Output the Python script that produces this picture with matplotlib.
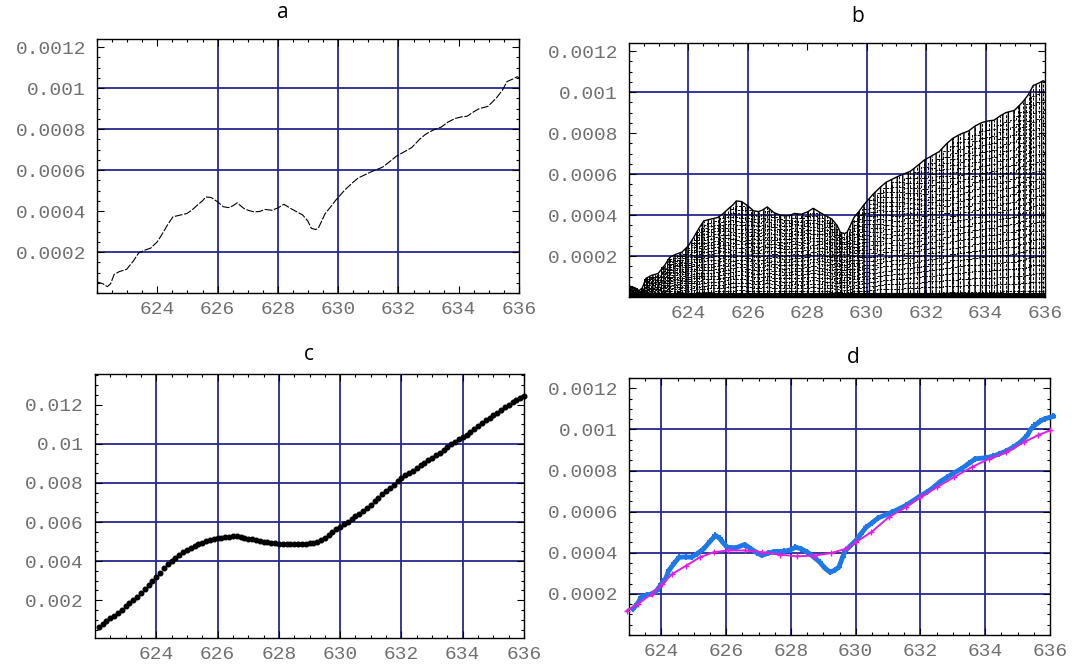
import numpy as np
import matplotlib
matplotlib.use('Agg')
import matplotlib.pyplot as plt
from matplotlib.ticker import MultipleLocator

# ---------------- data ----------------
# panel a / b : measured curve (y in units of 1e-4)
a_x = [622.00, 622.20, 622.34, 622.45, 622.57, 622.75, 622.98, 623.20, 623.38, 623.60,
       623.78, 624.00, 624.18, 624.35, 624.52, 624.75, 624.98, 625.15, 625.33, 625.50,
       625.61, 625.79, 626.00, 626.19, 626.36, 626.50, 626.65, 626.88, 627.05, 627.22,
       627.40, 627.57, 627.80, 628.00, 628.20, 628.48, 628.65, 628.83, 629.00, 629.11,
       629.25, 629.34, 629.45, 629.57, 629.75, 629.92, 630.21, 630.45, 630.66, 631.07,
       631.47, 631.70, 631.93, 632.20, 632.44, 632.70, 632.90, 633.15, 633.42, 633.65,
       633.88, 634.10, 634.28, 634.50, 634.68, 634.97, 635.10, 635.25, 635.45, 635.60,
       635.80, 635.94, 636.00]
a_y = [0.54, 0.45, 0.31, 0.45, 0.91, 1.05, 1.15, 1.55, 1.95, 2.10,
       2.19, 2.50, 2.92, 3.35, 3.72, 3.80, 3.88, 4.05, 4.29, 4.50,
       4.69, 4.66, 4.45, 4.21, 4.17, 4.25, 4.40, 4.12, 4.02, 3.96,
       3.98, 4.08, 4.04, 4.15, 4.33, 4.08, 3.95, 3.80, 3.50, 3.16,
       3.10, 3.16, 3.50, 3.88, 4.20, 4.53, 5.01, 5.35, 5.61, 5.90,
       6.14, 6.40, 6.68, 6.90, 7.10, 7.50, 7.75, 7.95, 8.10, 8.35,
       8.52, 8.60, 8.63, 8.85, 9.00, 9.11, 9.30, 9.52, 9.90, 10.32,
       10.45, 10.56, 10.50]
b_levels = [0.03, 0.07, 0.11, 0.15, 0.19, 0.23, 0.27, 0.31, 0.35, 0.39, 0.43, 0.47,
            0.51, 0.55, 0.59, 0.63, 0.67, 0.71, 0.75, 0.79, 0.83, 0.87, 0.91, 0.95]

# panel c : integrated curve (y in units of 1e-3), sampled every 0.125
c_y = [0.64, 0.78, 0.92, 1.07, 1.19, 1.33, 1.50, 1.69, 1.86, 2.02, 2.17, 2.36, 2.57, 2.79, 2.99, 3.19,
       3.41, 3.64, 3.83, 4.01, 4.16, 4.32, 4.46, 4.58, 4.68, 4.77, 4.87, 4.94, 5.02, 5.08, 5.12, 5.16,
       5.19, 5.22, 5.25, 5.27, 5.27, 5.24, 5.19, 5.14, 5.12, 5.09, 5.04, 4.99, 4.96, 4.93, 4.91, 4.90,
       4.89, 4.88, 4.87, 4.87, 4.87, 4.87, 4.88, 4.91, 4.94, 4.99, 5.06, 5.20, 5.34, 5.48, 5.62, 5.74,
       5.88, 6.02, 6.16, 6.29, 6.41, 6.55, 6.71, 6.87, 7.06, 7.25, 7.44, 7.60, 7.75, 7.91, 8.08, 8.24,
       8.38, 8.51, 8.63, 8.77, 8.90, 9.03, 9.16, 9.29, 9.42, 9.55, 9.69, 9.83, 9.97, 10.11, 10.23, 10.35,
       10.47, 10.60, 10.75, 10.91, 11.06, 11.20, 11.33, 11.46, 11.59, 11.72, 11.86, 12.00, 12.12, 12.24,
       12.34, 12.44]
c_x = np.round(622.125 + 0.125 * np.arange(len(c_y)), 3)

# panel d : measured (blue) and fitted (magenta), y in units of 1e-4
d_blue_x = [623.12, 623.25, 623.38, 623.55, 623.70, 623.85, 624.00, 624.12, 624.23, 624.40,
            624.55, 624.75, 624.93, 625.10, 625.30, 625.50, 625.67, 625.80, 625.89, 626.03,
            626.30, 626.57, 626.78, 626.95, 627.10, 627.30, 627.48, 627.80, 628.00, 628.14,
            628.30, 628.51, 628.70, 628.89, 629.05, 629.21, 629.35, 629.48, 629.60, 629.68,
            630.00, 630.15, 630.32, 630.50, 630.70, 631.12, 631.55, 631.98, 632.20, 632.41,
            632.60, 632.83, 633.05, 633.26, 633.50, 633.69, 634.02, 634.25, 634.44, 634.65,
            634.87, 635.10, 635.30, 635.40, 635.52, 635.70, 635.84, 636.10]
d_blue_y = [1.27, 1.50, 1.84, 1.95, 2.00, 2.15, 2.49, 2.70, 3.14, 3.50,
            3.78, 3.80, 3.78, 3.95, 4.18, 4.55, 4.84, 4.70, 4.51, 4.27,
            4.24, 4.40, 4.18, 4.00, 3.87, 3.98, 4.06, 4.07, 4.15, 4.27,
            4.20, 4.03, 3.80, 3.54, 3.25, 3.05, 3.15, 3.30, 3.80, 4.10,
            4.59, 4.90, 5.24, 5.45, 5.70, 5.97, 6.30, 6.75, 6.95, 7.19,
            7.45, 7.68, 7.90, 8.08, 8.35, 8.57, 8.62, 8.70, 8.81, 8.95,
            9.14, 9.40, 9.71, 10.00, 10.19, 10.40, 10.52, 10.63]
d_fit_x = [622.93, 623.28, 623.70, 624.02, 624.34, 624.77, 625.19, 625.62, 626.05, 626.58,
           627.11, 627.65, 628.18, 628.71, 629.25, 629.67, 630.00, 630.48, 631.02, 631.55,
           631.98, 632.51, 633.04, 633.58, 634.11, 634.65, 635.20, 635.62, 636.00]
d_fit_y = [1.19, 1.51, 2.00, 2.49, 2.97, 3.38, 3.78, 4.03, 4.11, 4.11,
           4.03, 3.91, 3.83, 3.86, 3.99, 4.18, 4.51, 5.00, 5.73, 6.22,
           6.70, 7.19, 7.68, 8.16, 8.57, 8.90, 9.38, 9.71, 9.95]

# ---------------- figure ----------------
fig = plt.figure(figsize=(10.72, 6.68), dpi=100)
W, H = 1072.0, 668.0
GRID = '#27278f'
TICKC = '#707070'
MONO = 'Liberation Mono'


def axes_px(left, top, right, bottom):
    return fig.add_axes([left / W, 1 - bottom / H, (right - left) / W, (bottom - top) / H])


def style(ax, xlim, ylim, xmaj, ymaj, ylabels, yminor, vgrid, hgrid):
    ax.set_xlim(*xlim)
    ax.set_ylim(*ylim)
    ax.set_xticks(xmaj)
    ax.set_xticklabels([str(v) for v in xmaj])
    ax.xaxis.set_minor_locator(MultipleLocator(0.5))
    ax.set_yticks(ymaj)
    ax.set_yticklabels(ylabels)
    ax.yaxis.set_minor_locator(MultipleLocator(yminor))
    ax.tick_params(which='both', direction='in', top=True, right=True,
                   color='black', labelcolor=TICKC, width=0.8)
    ax.tick_params(which='major', length=5, labelsize=14)
    ax.tick_params(axis='y', which='major', pad=8)
    ax.tick_params(axis='x', which='major', pad=6)
    ax.tick_params(which='minor', length=2.5)
    for lab in ax.get_xticklabels() + ax.get_yticklabels():
        lab.set_family(MONO)
    for v in vgrid:
        ax.axvline(v, color=GRID, lw=1.3, zorder=1)
    for h in hgrid:
        ax.axhline(h, color=GRID, lw=1.3, zorder=1)
    for s in ax.spines.values():
        s.set_linewidth(1.0)
        s.set_color('black')


xa = np.array(a_x)
ya = np.array(a_y) * 1e-4
lab4 = ['0.0002', '0.0004', '0.0006', '0.0008', '0.001', '0.0012']
maj4 = [0.0002, 0.0004, 0.0006, 0.0008, 0.001, 0.0012]
xt = [624, 626, 628, 630, 632, 634, 636]

# ---- a ----
ax_a = axes_px(97, 39, 519, 293)
style(ax_a, (622, 636), (0, 0.00124), xt, maj4, lab4, 0.00005,
      [626, 628, 630, 632], [0.0002, 0.0006, 0.0008, 0.001])
ax_a.plot(xa, ya, color='black', lw=0.8, ls=(0, (7, 1.5)), zorder=3)

# ---- b ----
ax_b = axes_px(629, 43, 1045, 297)
style(ax_b, (622, 636), (0, 0.00124), xt, maj4, lab4, 0.00005,
      [624, 626, 630, 632, 634], [0.0002, 0.0004, 0.0006, 0.001])
ax_b.fill_between(xa, 0, ya, facecolor='none', edgecolor='black', hatch='|||', lw=0, zorder=2)
for i, k in enumerate(b_levels):
    ax_b.plot(xa, ya * k, color='black', lw=0.7, ls=(i % 3, (2.5, 1.2)),
              drawstyle='steps-mid', zorder=3)
ax_b.vlines(xa, 0, ya, color='black', lw=0.7, linestyles=(0, (3, 1.5)), zorder=3)
ax_b.plot(xa, ya, color='black', lw=1.0, zorder=4)
ax_b.axhline(0.000008, color='black', lw=3, zorder=4)

# ---- c ----
ax_c = axes_px(95, 374, 524, 638)
style(ax_c, (622, 636), (0.00007, 0.01357), xt,
      [0.002, 0.004, 0.006, 0.008, 0.01, 0.012],
      ['0.002', '0.004', '0.006', '0.008', '0.01', '0.012'], 0.0005,
      [624, 626, 628, 630, 632, 634], [0.004, 0.006, 0.008, 0.01])
ax_c.plot(c_x, np.array(c_y) * 1e-3, ls='none', marker='o', ms=3.3, color='black', zorder=3,
          clip_on=False)

# ---- d ----
ax_d = axes_px(629, 378, 1050, 635)
style(ax_d, (623, 636), (0, 0.00125), xt, maj4, lab4, 0.00005,
      [624, 626, 628, 630, 632, 634], [0.0002, 0.0004, 0.0006, 0.0008, 0.001])
ax_d.plot(d_blue_x, np.array(d_blue_y) * 1e-4, color='#1e78e8', lw=3.5, marker='+', ms=5,
          mew=1.5, zorder=3, clip_on=False)
ax_d.plot(d_fit_x, np.array(d_fit_y) * 1e-4, color='#e020e0', lw=1.4, marker='+', ms=4,
          mew=1.0, zorder=4, clip_on=False)

# ---- titles ----
for t, (px, py) in zip(['a', 'b', 'c', 'd'], [(283, 12), (858, 17), (309, 355), (853, 358)]):
    fig.text(px / W, 1 - py / H, t, ha='center', va='center', fontsize=15,
             family='Open Sans', color='black')

fig.savefig('out.png', dpi=100, facecolor='white')
